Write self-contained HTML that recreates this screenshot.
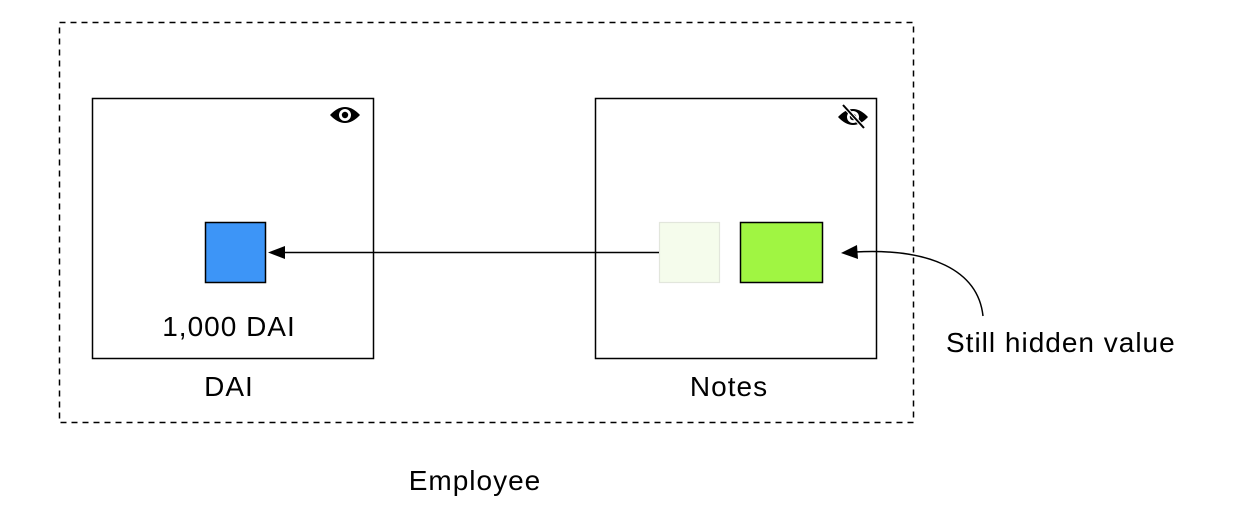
<!DOCTYPE html>
<html><head><style>
body{margin:0;background:#fff;width:1240px;height:523px;overflow:hidden}
</style></head><body>
<svg width="1240" height="523" viewBox="0 0 1240 523" xmlns="http://www.w3.org/2000/svg" font-family="Liberation Sans, sans-serif" font-size="28" letter-spacing="1">
<rect x="59.5" y="22.5" width="854" height="400" fill="none" stroke="#000" stroke-width="1.5" stroke-dasharray="6,5"/>
<rect x="92.5" y="98.5" width="281" height="260" fill="#fff" stroke="#000" stroke-width="1.5"/>
<rect x="595.5" y="98.5" width="281" height="260" fill="#fff" stroke="#000" stroke-width="1.5"/>
<rect x="205.5" y="222.5" width="60" height="60" fill="#3d95f7" stroke="#000" stroke-width="1.5"/>
<rect x="659.5" y="222.5" width="60" height="60" fill="#f5fcec" stroke="#e2e6dc" stroke-width="1.2"/>
<rect x="740.5" y="222.5" width="82" height="60" fill="#a0f542" stroke="#000" stroke-width="1.5"/>
<line x1="659" y1="252.5" x2="282" y2="252.5" stroke="#000" stroke-width="1.5"/>
<polygon points="268,252.5 285,246 285,259" fill="#000"/>
<path d="M983 316 C 978 270 930 248 855 252" fill="none" stroke="#000" stroke-width="1.5"/>
<polygon points="841,253 857,245 858,259" fill="#000"/>
<g transform="translate(345,115)">
<path d="M-15 0 Q0 -16 15 0 Q0 16 -15 0Z" fill="#000"/>
<circle r="6" fill="#fff"/><circle r="3.2" fill="#000"/>
</g>
<g transform="translate(853,117)">
<path d="M-15 0 Q0 -16 15 0 Q0 16 -15 0Z" fill="#000"/>
<circle r="6" fill="#fff"/><circle r="3.2" fill="#000"/>
<line x1="-10" y1="-12" x2="11" y2="11" stroke="#fff" stroke-width="4"/>
<line x1="-10" y1="-12" x2="11" y2="11" stroke="#000" stroke-width="2"/>
</g>
<text x="229" y="336" text-anchor="middle">1,000 DAI</text>
<text x="229" y="396" text-anchor="middle">DAI</text>
<text x="729" y="396" text-anchor="middle">Notes</text>
<text x="946" y="352">Still hidden value</text>
<text x="475" y="490" text-anchor="middle">Employee</text>
</svg>
</body></html>
